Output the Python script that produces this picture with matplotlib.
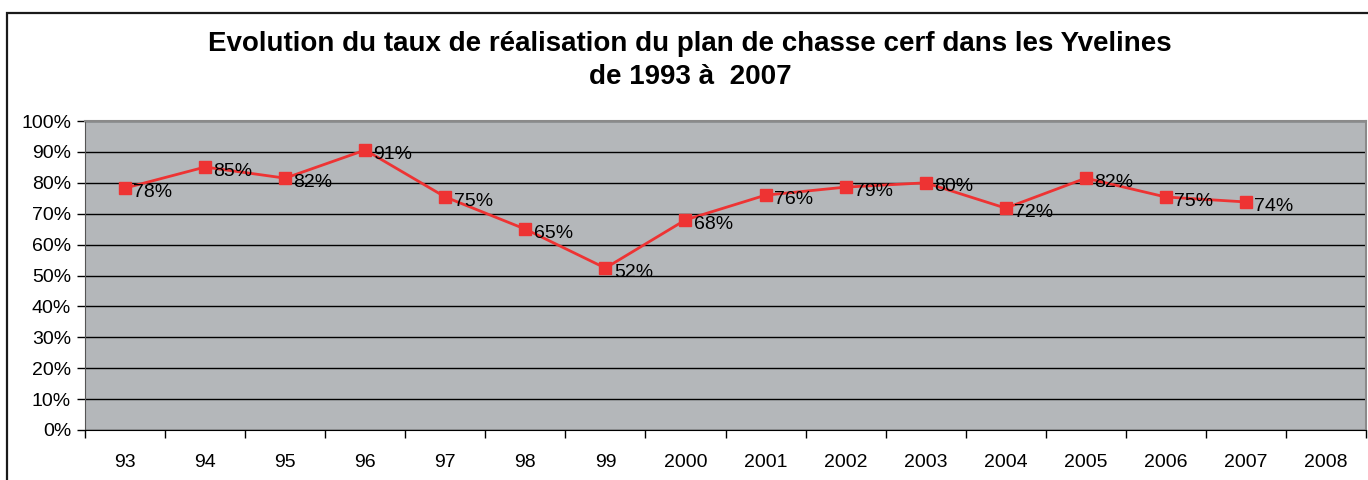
import numpy as np
import matplotlib.pyplot as plt
from matplotlib.patches import Rectangle

plt.rcParams['font.family'] = ['Liberation Sans', 'DejaVu Sans']

categories = ['93', '94', '95', '96', '97', '98', '99', '2000', '2001',
              '2002', '2003', '2004', '2005', '2006', '2007', '2008']
taux = [0.783, 0.851, 0.815, 0.906, 0.754, 0.650, 0.524, 0.680, 0.760,
        0.786, 0.800, 0.718, 0.815, 0.754, 0.738]
yticks = np.arange(0, 1.01, 0.1)

fig = plt.figure(figsize=(13.68, 4.8), dpi=100)
# outer chart frame
fig.patches.append(Rectangle((7 / 1368, -0.1), 1.2, 1 - 13 / 480 + 0.1,
                             transform=fig.transFigure, fill=False,
                             edgecolor='#1a1a1a', linewidth=1.6))

ax = fig.add_axes([85 / 1368, 50 / 480, 1281 / 1368, 309 / 480])
ax.set_facecolor('#b4b7ba')
x = np.arange(len(categories))
ax.set_xlim(-0.5, len(categories) - 0.5)
ax.set_ylim(0, 1)

ax.set_yticks(yticks)
ax.set_yticklabels([f'{int(round(v * 100))}%' for v in yticks])
ax.yaxis.grid(True, color='black', linewidth=1)
ax.set_axisbelow(True)

ax.set_xticks(x)
ax.set_xticklabels(categories)
ax.set_xticks(np.arange(-0.5, len(categories)), minor=True)
ax.tick_params(axis='x', which='major', length=0, pad=17, labelsize=14)
ax.tick_params(axis='x', which='minor', length=6, width=1, color='black', direction='out')
ax.tick_params(axis='y', length=6, width=1, color='black', labelsize=14, pad=4)

for s in ['top', 'right']:
    ax.spines[s].set_color('#8a8a8a')
    ax.spines[s].set_linewidth(1.5)
ax.spines['left'].set_color('#555555')
ax.spines['bottom'].set_color('black')

xs = x[:len(taux)]
ax.plot(xs, taux, color='#ee3333', linewidth=2, marker='s', markersize=8,
        markeredgecolor='#ee3333', zorder=3)
for xi, v in zip(xs, taux):
    ax.annotate(f'{int(round(v * 100))}%', (xi, v), xytext=(6, -3),
                textcoords='offset points', ha='left', va='center', fontsize=14)

fig.text(690 / 1368, 1 - 44 / 480, 'Evolution du taux de réalisation du plan de chasse cerf dans les Yvelines',
         ha='center', va='center', fontsize=20, fontweight='bold')
fig.text(690 / 1368, 1 - 77 / 480, 'de 1993 à  2007',
         ha='center', va='center', fontsize=20, fontweight='bold')

fig.savefig('out.png', dpi=100)
